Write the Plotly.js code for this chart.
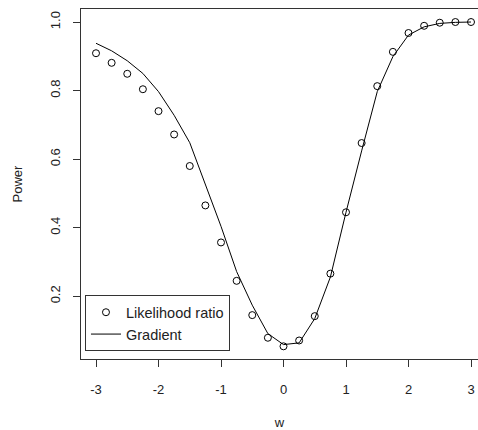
<!DOCTYPE html>
<html>
<head>
<meta charset="utf-8">
<script src="https://cdn.plot.ly/plotly-3.0.1.min.js"></script>
<style>html,body{margin:0;padding:0;background:#fff;overflow:hidden}</style>
</head>
<body>
<div id="chart" style="width:478px;height:430px"></div>
<script>
var w = [-3, -2.75, -2.5, -2.25, -2, -1.75, -1.5, -1.25, -1, -0.75, -0.5, -0.25, 0,
         0.25, 0.5, 0.75, 1, 1.25, 1.5, 1.75, 2, 2.25, 2.5, 2.75, 3];
var likelihoodRatio = [0.909, 0.881, 0.849, 0.804, 0.740, 0.672, 0.580, 0.465, 0.357, 0.245,
                       0.145, 0.079, 0.054, 0.071, 0.142, 0.266, 0.445, 0.647, 0.813, 0.913,
                       0.968, 0.989, 0.998, 1.000, 1.000];
var gradient = [0.938, 0.916, 0.887, 0.850, 0.797, 0.728, 0.648, 0.528, 0.404, 0.272,
                0.174, 0.091, 0.059, 0.064, 0.135, 0.256, 0.445, 0.624, 0.797, 0.899,
                0.962, 0.986, 0.996, 0.999, 1.000];
var xTicks = [-3, -2, -1, 0, 1, 2, 3];
var yTicks = [0.2, 0.4, 0.6, 0.8, 1.0];

var fontFam = '"Liberation Sans", Arial, sans-serif';
var traces = [
  {x: w, y: likelihoodRatio, name: 'Likelihood ratio', type: 'scatter', mode: 'markers',
   marker: {symbol: 'circle-open', size: 7, color: '#000', line: {width: 1, color: '#000'}}},
  {x: w, y: gradient, name: 'Gradient', type: 'scatter', mode: 'lines',
   line: {color: '#000', width: 1}}
];
var layout = {
  width: 478, height: 430,
  margin: {l: 81, r: 0, t: 9, b: 71, pad: 0},
  paper_bgcolor: '#fff', plot_bgcolor: '#fff',
  font: {family: fontFam, size: 13, color: '#222'},
  showlegend: true,
  legend: {x: 0.01, y: 0.182, xanchor: 'left', yanchor: 'top', bgcolor: '#fff',
           bordercolor: '#333', borderwidth: 1, font: {size: 14.5, color: '#222'},
           tracegroupgap: 0, itemwidth: 30},
  xaxis: {range: [-3.24, 3.112], tickvals: xTicks, ticktext: xTicks.map(String),
          showgrid: false, zeroline: false, showline: true, mirror: true, linecolor: '#333',
          linewidth: 1, ticks: 'outside', ticklen: 7, tickcolor: '#333', tickwidth: 1,
          ticklabelstandoff: 11, automargin: false, tickfont: {size: 13},
          title: {text: 'w', font: {size: 13, color: '#222'}, standoff: 23}},
  yaxis: {range: [0.017, 1.038], tickvals: yTicks, ticktext: yTicks.map(function(v){return v.toFixed(1);}),
          tickangle: -90, showgrid: false, zeroline: false, showline: true, mirror: false,
          linecolor: '#333', linewidth: 1, ticks: 'outside', ticklen: 7, tickcolor: '#333',
          tickwidth: 1, ticklabelstandoff: 8, automargin: false, tickfont: {size: 13},
          title: {text: 'Power', font: {size: 13, color: '#222'}, standoff: 22}}
};
Plotly.newPlot('chart', traces, layout, {staticPlot: true, displayModeBar: false});
</script>
</body>
</html>
